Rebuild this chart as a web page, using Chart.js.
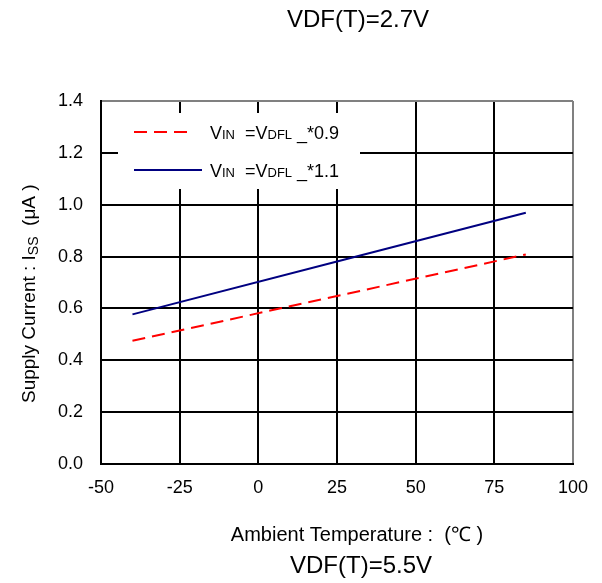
<!DOCTYPE html>
<html>
<head>
<meta charset="utf-8">
<script src="https://cdn.jsdelivr.net/npm/chart.js@4.4.1/dist/chart.umd.min.js"></script>
<style>
  body { margin: 0; background: #fff; }
  canvas { display: block; }
</style>
</head>
<body>
<canvas id="chart" width="602" height="583"></canvas>
<script>
const FONT = '"Liberation Sans", Arial, sans-serif';

// data
const temps = [-40, 25, 85];
const iss_09 = [0.475, 0.648, 0.808];
const iss_11 = [0.577, 0.781, 0.969];

const series_labels = ["VIN =VDFL_*0.9", "VIN =VDFL_*1.1"];
// legend text pieces: [text, small]
const legend_parts = [
  [["V", 0], ["IN", 1], ["  =V", 0], ["DFL", 1], [" _*0.9", 0]],
  [["V", 0], ["IN", 1], ["  =V", 0], ["DFL", 1], [" _*1.1", 0]],
];
const title_top = "VDF(T)=2.7V";
const title_bottom = "VDF(T)=5.5V";
const x_title = "Ambient Temperature :  (℃ )";
const y_title = [["Supply Current : I", 0], ["SS", 1], ["  (μA )", 0]];

const x_min = -50, x_max = 100, x_step = 25;
const y_min = 0, y_max = 1.4, y_step = 0.2;

function toPoints(xs, ys) {
  return xs.map((x, i) => ({ x: x, y: ys[i] }));
}

// draws a run of big/small text pieces starting at x, returns end x
function drawParts(ctx, parts, x, y, big, small, subShift) {
  parts.forEach(([t, s]) => {
    ctx.font = (s ? small : big) + "px " + FONT;
    ctx.fillText(t, x, y + (s ? subShift : 0));
    x += ctx.measureText(t).width;
  });
  return x;
}

const textPlugin = {
  id: "texts",
  afterDraw(chart) {
    const ctx = chart.ctx;
    ctx.save();
    ctx.fillStyle = "#000";
    ctx.textBaseline = "alphabetic";

    // titles
    ctx.textAlign = "center";
    ctx.font = "24px " + FONT;
    ctx.fillText(title_top, 358, 27);
    ctx.fillText(title_bottom, 361, 573);
    ctx.font = "20px " + FONT;
    ctx.fillText(x_title, 357, 541);

    // y title, rotated, reads bottom to top
    ctx.textAlign = "left";
    ctx.save();
    ctx.translate(35, 403);
    ctx.rotate(-Math.PI / 2);
    drawParts(ctx, y_title, 0, 0, 19, 14, 3);
    ctx.restore();

    // legend box
    ctx.fillStyle = "#fff";
    ctx.fillRect(118, 113, 242, 76);
    const rows = [132, 170];
    chart.data.datasets.forEach((ds, i) => {
      ctx.strokeStyle = ds.borderColor;
      ctx.lineWidth = ds.borderWidth;
      ctx.setLineDash(ds.borderDash || []);
      ctx.beginPath();
      ctx.moveTo(134, rows[i]);
      ctx.lineTo(i === 0 ? 194 : 202, rows[i]);
      ctx.stroke();
      ctx.setLineDash([]);
      ctx.fillStyle = "#000";
      drawParts(ctx, legend_parts[i], 210, rows[i] + 7, 18, 13, 0);
    });
    ctx.restore();
  },
};

const gridColor = (edge) => (c) =>
  Math.abs(c.tick.value - edge) < 1e-6 ? "#808080" : "#000";

new Chart(document.getElementById("chart"), {
  type: "line",
  data: {
    datasets: [
      {
        label: series_labels[0],
        data: toPoints(temps, iss_09),
        borderColor: "#ff0000",
        borderWidth: 2,
        borderDash: [13, 7],
        pointRadius: 0,
        tension: 0,
      },
      {
        label: series_labels[1],
        data: toPoints(temps, iss_11),
        borderColor: "#000080",
        borderWidth: 2,
        pointRadius: 0,
        tension: 0,
      },
    ],
  },
  options: {
    responsive: false,
    animation: false,
    layout: { padding: { top: 101, right: 29, left: 0, bottom: 89 } },
    plugins: {
      legend: { display: false },
      tooltip: { enabled: false },
    },
    scales: {
      x: {
        type: "linear",
        min: x_min,
        max: x_max,
        ticks: {
          stepSize: x_step,
          color: "#000",
          font: { family: FONT, size: 18 },
          padding: 13,
          maxRotation: 0,
        },
        grid: { color: gridColor(x_max), lineWidth: 2, drawTicks: false },
        border: { color: "#000", width: 2 },
        afterFit(scale) { scale.height = 30; },
      },
      y: {
        min: y_min,
        max: y_max,
        ticks: {
          stepSize: y_step,
          color: "#000",
          font: { family: FONT, size: 18 },
          padding: 18,
          callback: (v) => v.toFixed(1),
        },
        grid: { color: gridColor(y_max), lineWidth: 2, drawTicks: false },
        border: { color: "#000", width: 2 },
        afterFit(scale) { scale.width = 101; },
      },
    },
  },
  plugins: [textPlugin],
});
</script>
</body>
</html>
